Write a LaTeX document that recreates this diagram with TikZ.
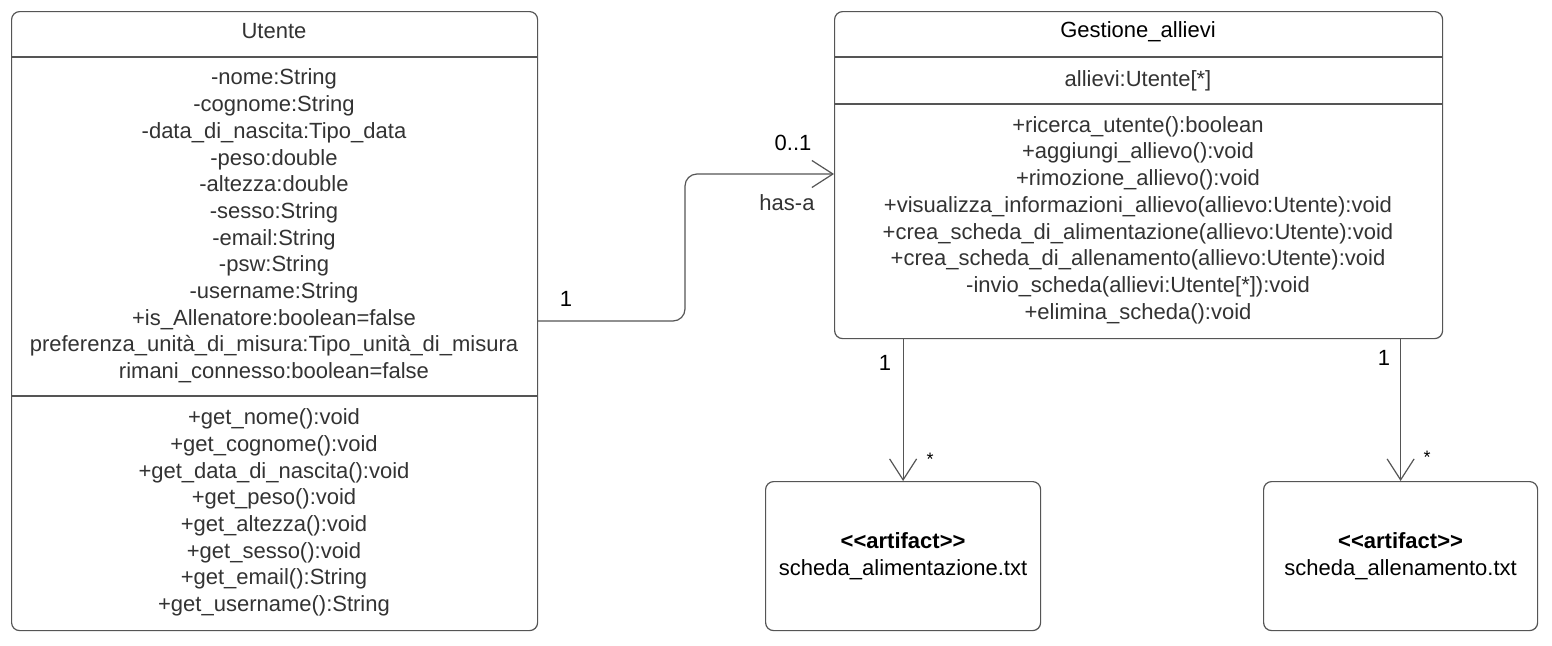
\documentclass[tikz,border=0pt]{standalone}
\usepackage{fontspec}
\setmainfont{Liberation Sans}
\usetikzlibrary{arrows.meta}
\definecolor{txt}{HTML}{333333}
\definecolor{ln}{HTML}{555555}
\begin{document}
\begin{tikzpicture}[x=1pt, y=-1pt,
  font=\fontsize{22}{26.7}\selectfont,
  box/.style={draw=ln, line width=1.2pt, rounded corners=8pt, anchor=north west, inner sep=0pt, fill=white},
  sepline/.style={draw=ln, line width=1.2pt},
  txtn/.style={text=txt, align=center, inner sep=0pt},
  blk/.style={text=black, align=center, inner sep=0pt},
  assoc/.style={draw=ln, line width=1.2pt, -{Straight Barb[length=21pt,width=27pt]}}]
\useasboundingbox[fill=white] (0,0) rectangle (1552,645);
% boxes
\node[box, minimum width=526pt, minimum height=619pt] (utente) at (11,11) {};
\node[box, minimum width=608pt, minimum height=327pt] (gest) at (834,11) {};
\node[box, minimum width=275pt, minimum height=149pt] (art1) at (765,481) {};
\node[box, minimum width=274pt, minimum height=149pt] (art2) at (1263,481) {};
% dividers
\draw[sepline] (utente.west |- 0,57) -- (utente.east |- 0,57);
\draw[sepline] (utente.west |- 0,396) -- (utente.east |- 0,396);
\draw[sepline] (gest.west |- 0,57) -- (gest.east |- 0,57);
\draw[sepline] (gest.west |- 0,104) -- (gest.east |- 0,104);
% Utente texts
\node[txtn] (utitle) at (274,31) {Utente};
\node[txtn] (uattr) at (274,226) {-nome:String\\-cognome:String\\-data\_di\_nascita:Tipo\_data\\-peso:double\\-altezza:double\\-sesso:String\\-email:String\\-psw:String\\-username:String\\+is\_Allenatore:boolean=false\\preferenza\_unità\_di\_misura:Tipo\_unità\_di\_misura\\rimani\_connesso:boolean=false};
\node[txtn] (umeth) at (274,512.5) {+get\_nome():void\\+get\_cognome():void\\+get\_data\_di\_nascita():void\\+get\_peso():void\\+get\_altezza():void\\+get\_sesso():void\\+get\_email():String\\+get\_username():String};
% Gestione texts
\node[blk] (gtitle) at (1138,32) {Gestione\_allievi};
\node[txtn] (gattr) at (1138,81) {allievi:Utente[*]};
\node[txtn] (gmeth) at (1138,220) {+ricerca\_utente():boolean\\+aggiungi\_allievo():void\\+rimozione\_allievo():void\\+visualizza\_informazioni\_allievo(allievo:Utente):void\\+crea\_scheda\_di\_alimentazione(allievo:Utente):void\\+crea\_scheda\_di\_allenamento(allievo:Utente):void\\-invio\_scheda(allievi:Utente[*]):void\\+elimina\_scheda():void};
% artifacts
\node[blk] (a1t) at (art1.center) {\textbf{<{}<artifact>{}>}\\scheda\_alimentazione.txt};
\node[blk] (a2t) at (art2.center) {\textbf{<{}<artifact>{}>}\\scheda\_allenamento.txt};
% connectors
\coordinate (p1) at (537,321);
\coordinate (p2) at (834,174);
\draw[assoc, rounded corners=12pt] (utente.east |- p1) -- (685,321) -- (685,174) -- (gest.west |- p2);
\draw[assoc] (gest.south -| art1.north) -- (art1.north);
\draw[assoc] (gest.south -| art2.north) -- (art2.north);
% labels
\node[blk] (l1) at (566,299) {1};
\node[blk] (l2) at (793,143) {0..1};
\node[txtn] (l3) at (787,203) {has-a};
\node[blk] (l4) at (885,363) {1};
\node[blk] (l5) at (1384,358) {1};
\node[blk, font=\fontsize{18}{20}\selectfont] (l6) at (930,459) {*};
\node[blk, font=\fontsize{18}{20}\selectfont] (l7) at (1427,457) {*};
\end{tikzpicture}
\end{document}
